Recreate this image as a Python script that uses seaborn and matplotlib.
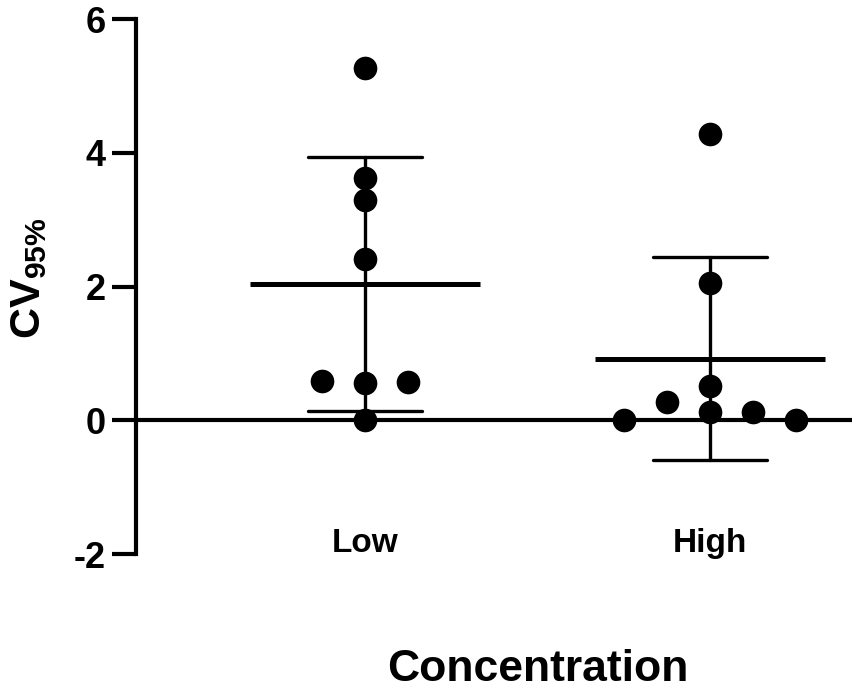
import pandas as pd
import seaborn as sns
from matplotlib import pyplot as plt

groups = ['Low', 'High']
low_values = [5.27, 3.62, 3.29, 2.41, 0.55, 0.59, 0.57, 0.00]
high_values = [4.28, 2.06, 0.13, 0.27, 0.13, 0.00, 0.00, 0.51]
y_ticks = [-2, 0, 2, 4, 6]


def dot_offsets(values, step=0.125, min_gap=0.3):
    # prism-like column scatter: points share a slot only when far enough apart
    slots = [0, -1, 1, -2, 2, -3, 3]
    placed = []
    offsets = []
    for v in values:
        for s in slots:
            if all(abs(v - pv) >= min_gap for pv, ps in placed if ps == s):
                placed.append((v, s))
                offsets.append(s * step)
                break
    return offsets


df = pd.DataFrame({
    'group': ['Low'] * len(low_values) + ['High'] * len(high_values),
    'value': low_values + high_values,
})
offsets = dot_offsets(low_values) + dot_offsets(high_values)
df['x'] = [groups.index(g) + o for g, o in zip(df['group'], offsets)]

sns.set_style('ticks')
plt.rcParams['font.family'] = ['Liberation Sans', 'DejaVu Sans']
plt.rcParams['font.weight'] = 'bold'
plt.rcParams['axes.labelcolor'] = 'black'
plt.rcParams['text.color'] = 'black'
plt.rcParams['mathtext.fontset'] = 'custom'
plt.rcParams['mathtext.rm'] = 'Liberation Sans:bold'
plt.rcParams['mathtext.bf'] = 'Liberation Sans:bold'

fig = plt.figure(figsize=(8.56, 6.92), dpi=100)
ax = fig.add_axes([0.159, 0.1994, 0.836, 0.7731])

sns.pointplot(data=df, x='group', y='value', order=groups, errorbar='sd',
              capsize=0.33, color='black', markers='_', linestyles='none',
              markersize=165, markeredgewidth=3.6,
              err_kws={'linewidth': 2.4}, ax=ax)

sns.scatterplot(x=df['x'], y=df['value'], s=290, color='black',
                edgecolor='black', linewidth=0, zorder=4, legend=False, ax=ax)

ax.axhline(0, color='black', linewidth=3, zorder=1.5)

ax.set_xlim(-0.664, 1.412)
ax.set_ylim(-2, 6)
ax.set_yticks(y_ticks)
ax.set_yticklabels([str(t) for t in y_ticks])
ax.set_xticks([0, 1])
ax.set_xticklabels(groups)

for side in ['top', 'right', 'bottom']:
    ax.spines[side].set_visible(False)
ax.spines['left'].set_linewidth(3)
ax.spines['left'].set_color('black')

ax.tick_params(axis='y', length=17, width=3, pad=5, labelsize=26,
               colors='black')
ax.tick_params(axis='x', length=0, pad=-19, labelsize=24, colors='black')
for lab in ax.get_xticklabels() + ax.get_yticklabels():
    lab.set_fontweight('bold')

ax.set_xlabel('Concentration', fontsize=32, fontweight='bold', color='black')
ax.xaxis.set_label_coords(0.561, -0.178)
ax.set_ylabel(r'$\mathbf{CV_{95\%}}$', fontsize=31, color='black')
ax.yaxis.set_label_coords(-0.122, 0.515)

fig.savefig('out.png', dpi=100)
